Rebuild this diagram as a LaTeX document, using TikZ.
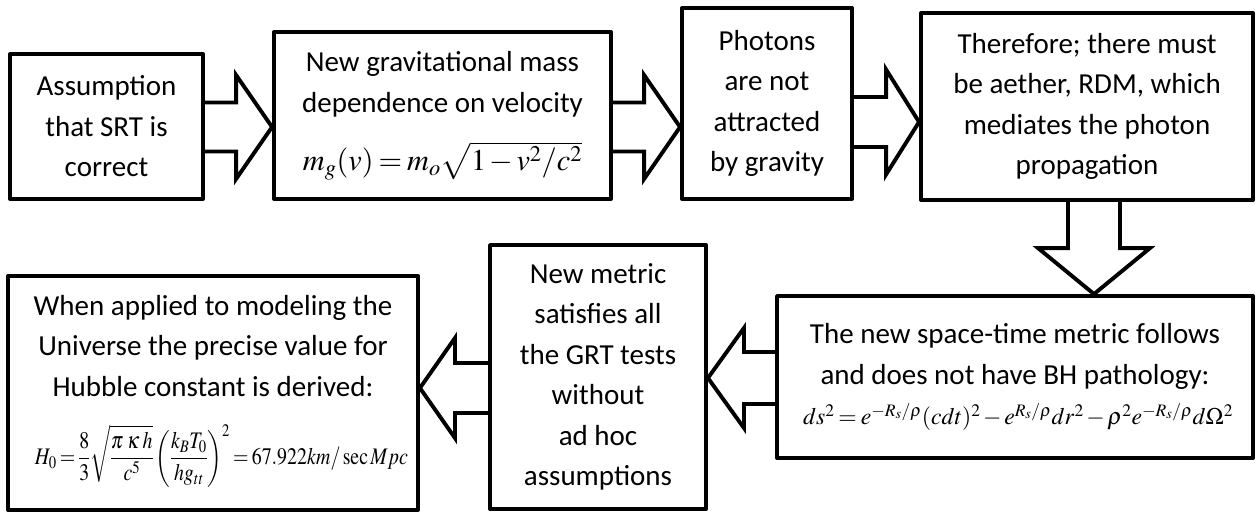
\documentclass[tikz,border=0pt]{standalone}
\usepackage{graphicx}
\usepackage{mathptmx}
\usepackage[no-math]{fontspec}
\setmainfont{Carlito}
\usetikzlibrary{calc}
\thickmuskip=3mu plus 2mu
\medmuskip=2mu plus 1mu
\tikzset{
  box/.style={draw, line width=3.9pt, line join=round, inner sep=0pt, align=center,
    font=\fontsize{29}{40.5}\selectfont},
  arrline/.style={draw, line width=3.9pt, line join=miter},
}
\newcommand\blockR[5]{\draw[arrline] let \p1=(#1), \p2=(#2) in
  (\x1,\y1+#3) -- (\x2-#5,\y1+#3) -- (\x2-#5,\y1+#4) -- (\x2,\y2) --
  (\x2-#5,\y1-#4) -- (\x2-#5,\y1-#3) -- (\x1,\y1-#3);}
\newcommand\blockL[5]{\draw[arrline] let \p1=(#1), \p2=(#2) in
  (\x1,\y1+#3) -- (\x2+#5,\y1+#3) -- (\x2+#5,\y1+#4) -- (\x2,\y2) --
  (\x2+#5,\y1-#4) -- (\x2+#5,\y1-#3) -- (\x1,\y1-#3);}
\newcommand\blockD[5]{\draw[arrline] let \p1=(#1), \p2=(#2) in
  (\x1-#3,\y1) -- (\x1-#3,\y2+#5) -- (\x1-#4,\y2+#5) -- (\x2,\y2) --
  (\x1+#4,\y2+#5) -- (\x1+#3,\y2+#5) -- (\x1+#3,\y1);}
\begin{document}
\begin{tikzpicture}[x=1pt,y=-1pt]
\useasboundingbox (0,0) rectangle (1257,512);
\node[box, minimum width=193pt, minimum height=145pt] (b1) at (106.5,126.5)
  {Assumption\\that SRT is\\correct};
\node[box, minimum width=337pt, minimum height=167pt] (b2) at (442.5,115.5)
  {New gravitational mass\\dependence on velocity\\[18pt]\resizebox{279pt}{!}{$m_g(v)=m_o\sqrt{1-v^2/c^2}$}};
\node[box, minimum width=170pt, minimum height=191pt] (b3) at (767,103.5)
  {Photons\\are not\\attracted\\by gravity};
\node[box, minimum width=332pt, minimum height=187pt] (b4) at (1087,106.5)
  {Therefore; there must\\be aether, RDM, which\\mediates the photon\\propagation};
\node[box, minimum width=476pt, minimum height=162pt] (b5) at (1015,377)
  {The new space-time metric follows\\and does not have BH pathology:\\\hspace*{6pt}\resizebox{430pt}{!}{$ds^2=e^{-R_s/\rho}(cdt)^2-e^{R_s/\rho}dr^2-\rho^2e^{-R_s/\rho}d\Omega^2$}};
\node[box, minimum width=216pt, minimum height=264pt] (b6) at (598,377)
  {New metric\\satisfies all\\the GRT tests\\without\\ad hoc\\assumptions};
\node[box, minimum width=410pt, minimum height=234pt] (b7) at (213,393)
  {When applied to modeling the\\Universe the precise value for\\Hubble constant is derived:\\[28pt]\hspace*{17pt}\resizebox*{373pt}{62pt}{$\displaystyle H_0=\frac{8}{3}\sqrt{\frac{\pi\;\kappa\;h}{c^5}}\left(\frac{k_BT_0}{hg_{tt}}\right)^2=67.922km/\sec Mpc$}\\[-14pt]\mbox{}};
\coordinate (ya) at (0,127);
\coordinate (yb) at (0,122);
\coordinate (xd) at (1094,0);
\coordinate (yc) at (0,378);
\coordinate (yd) at (0,388);
\blockR{b1.east |- ya}{b2.west |- ya}{24.5pt}{52pt}{36pt}
\blockR{b2.east |- ya}{b3.west |- ya}{24.5pt}{52pt}{36pt}
\blockR{b3.east |- yb}{b4.west |- yb}{25pt}{52.5pt}{33pt}
\blockD{b4.south -| xd}{b5.north -| xd}{26pt}{56pt}{46pt}
\blockL{b5.west |- yc}{b6.east |- yc}{26pt}{50pt}{36pt}
\blockL{b6.west |- yd}{b7.east |- yd}{25pt}{50pt}{35pt}
\end{tikzpicture}
\end{document}
